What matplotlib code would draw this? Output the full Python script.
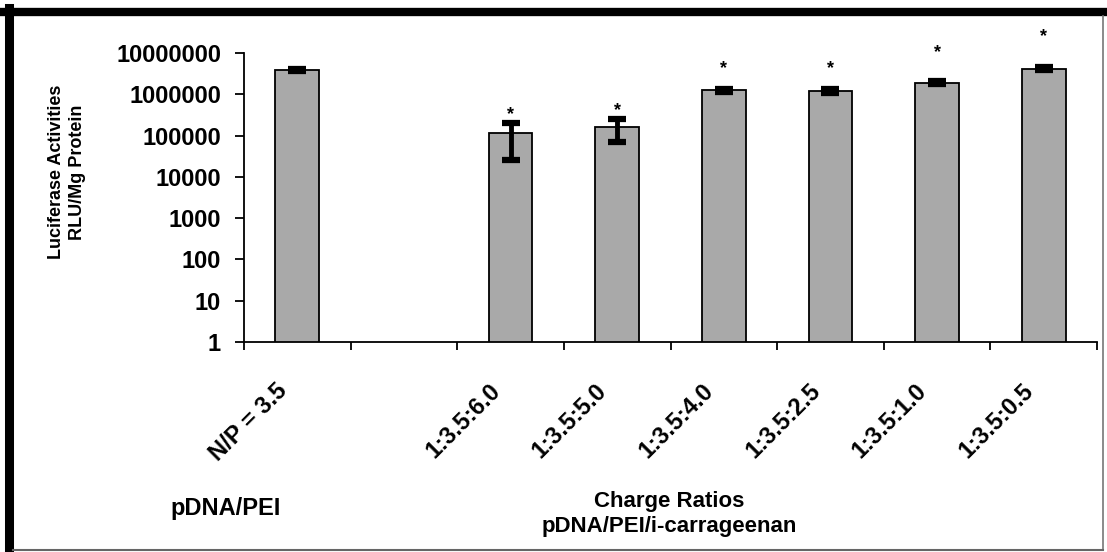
import matplotlib.pyplot as plt
import numpy as np
from matplotlib.lines import Line2D

plt.rcParams['font.family'] = ['Liberation Sans', 'DejaVu Sans']
plt.rcParams['font.weight'] = 'bold'

# transfection data (RLU per mg protein), mean and SD
groups = ['N/P = 3.5', '', '1:3.5:6.0', '1:3.5:5.0', '1:3.5:4.0',
          '1:3.5:2.5', '1:3.5:1.0', '1:3.5:0.5']
activity = [3.9e6, np.nan, 1.15e5, 1.6e5, 1.25e6, 1.2e6, 1.9e6, 4.2e6]
activity_sd = [2.0e5, np.nan, 9.0e4, 9.0e4, 1.0e5, 1.2e5, 1.5e5, 3.0e5]
significant = [False, False, True, True, True, True, True, True]
star_gap = [0, 0, 0, 0, 12, 12, 20, 22]  # pixels above the error cap

fig = plt.figure(figsize=(11.07, 5.52), dpi=100)
ax = fig.add_axes([244 / 1107, 210 / 552, 853 / 1107, 289 / 552])

x = np.arange(len(groups))
ax.bar(x, activity, width=0.41, color='#a9a9a9', edgecolor='black',
       linewidth=1.3, zorder=2)
ax.errorbar(x, activity, yerr=activity_sd, fmt='none', ecolor='black',
            elinewidth=3.5, capsize=6.5, capthick=4.5, zorder=3)

for xi, v, sd, sig, gap in zip(x, activity, activity_sd, significant, star_gap):
    if sig:
        ax.annotate('*', xy=(xi, v + sd), xytext=(0, gap),
                    textcoords='offset pixels', ha='center', va='bottom',
                    fontsize=13)

ax.set_yscale('log')
ax.set_ylim(1, 1e7)
ax.set_yticks([10 ** k for k in range(8)])
ax.set_yticklabels([str(10 ** k) for k in range(8)])
ax.minorticks_off()
ax.tick_params(axis='y', direction='out', length=6.5, width=1.3, pad=10,
               labelsize=17)

ax.set_xlim(-0.5, len(groups) - 0.5)
ax.set_xticks(np.arange(len(groups) + 1) - 0.5)
ax.set_xticklabels([])
ax.tick_params(axis='x', direction='out', length=6, width=1.3)

# rotated group labels under each bar
for xi, lab in zip(x, groups):
    ax.annotate(lab, xy=(xi, 0), xycoords=('data', 'axes fraction'),
                xytext=(-22, -37), textcoords='offset pixels',
                rotation=45, rotation_mode='anchor', ha='right', va='top',
                fontsize=17)

for side in ['top', 'right']:
    ax.spines[side].set_visible(False)
for side in ['left', 'bottom']:
    ax.spines[side].set_linewidth(1.3)

fig.text(67 / 1107, 1 - 172 / 552, 'Luciferase Activities\nRLU/Mg Protein',
         rotation=90, ha='center', va='center', multialignment='center',
         fontsize=13, linespacing=1.3)
fig.text(226 / 1107, 1 - 509 / 552, 'pDNA/PEI', ha='center', va='center',
         fontsize=17)
fig.text(669 / 1107, 1 - 514 / 552, 'Charge Ratios\npDNA/PEI/i-carrageenan',
         ha='center', va='center', multialignment='center', fontsize=16,
         linespacing=1.2)

# frame around the figure
fig.add_artist(Line2D([4 / 1107, 1], [1 - 12 / 552] * 2, color='black',
                      linewidth=6, transform=fig.transFigure))
fig.add_artist(Line2D([8.5 / 1107] * 2, [0, 1 - 8 / 552], color='black',
                      linewidth=6.5, transform=fig.transFigure))
fig.add_artist(Line2D([1103 / 1107] * 2, [2 / 552, 1 - 16 / 552],
                      color='#777777', linewidth=1.2,
                      transform=fig.transFigure))
fig.add_artist(Line2D([13 / 1107, 1103 / 1107], [2.5 / 552] * 2,
                      color='#666666', linewidth=1.5,
                      transform=fig.transFigure))

fig.savefig('out.png', dpi=100)
